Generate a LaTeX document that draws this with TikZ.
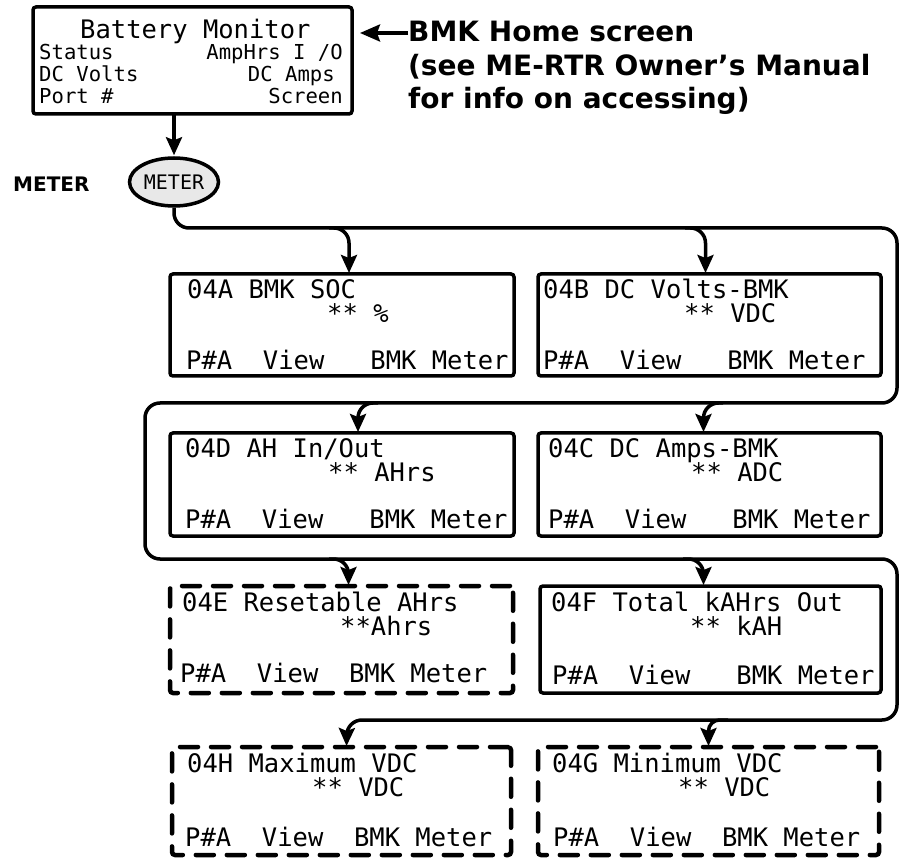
\documentclass[tikz,border=0pt]{standalone}
\usepackage{fontspec}
\setmainfont{DejaVu Sans}
\newfontfamily\lcdfont{DejaVu Sans Mono}
\usetikzlibrary{arrows.meta,shapes.geometric,positioning}

\tikzset{
  screen/.style={draw, line width=3.5pt, rounded corners=3pt, inner sep=0pt, outer sep=0pt,
    anchor=north west, minimum width=344pt, minimum height=103pt},
  dashscreen/.style={screen, line width=4.5pt, dash pattern=on 18pt off 13pt, line cap=round},
  lcd/.style={anchor=base west, inner sep=0pt, font=\lcdfont\fontsize{25.5}{30}\selectfont},
  lcdsmall/.style={anchor=base west, inner sep=0pt, font=\lcdfont\fontsize{20.6}{24}\selectfont},
  flow/.style={line width=3.5pt, rounded corners=15pt},
  feed/.style={flow, -{Stealth[length=18pt,width=16pt,inset=3pt]}, shorten >=1pt},
}

% text lines of one screen: name, title dx, title, value dx, value, keys dx, keys, keys lift
\newcommand\lcdlines[8]{%
  \node[lcd] (#1-title) at ([xshift=#2pt,yshift=-25pt]#1.north west) {#3};
  \node[lcd] (#1-value) at ([xshift=#4pt,yshift=-49pt]#1.north west) {#5};
  \node[lcd] (#1-keys)  at ([xshift=#6pt,yshift=#8pt]#1.south west) {#7};}

\begin{document}
\begin{tikzpicture}[x=1pt,y=-1pt]
\useasboundingbox (0,0) rectangle (900,858);

% home screen
\node[screen, minimum width=319pt, minimum height=107pt] (home) at (33,7) {};
\node[lcd] (home-title) at (80,39) {Battery Monitor};
\node[lcdsmall] (home-status) at (39,60) {Status};
\node[lcdsmall, anchor=base east] (home-amphrs) at (343,60) {AmpHrs I /O};
\node[lcdsmall] (home-volts) at (39,82) {DC Volts};
\node[lcdsmall, anchor=base east] (home-amps) at (335,82) {DC Amps};
\node[lcdsmall] (home-port) at (39,104) {Port \#};
\node[lcdsmall, anchor=base east] (home-screen) at (343,104) {Screen};

\node[anchor=north west, inner sep=0pt, align=left,
  font=\bfseries\fontsize{28}{33.5}\selectfont] (callout) at (408,21)
  {BMK Home screen\\(see ME-RTR Owner’s Manual\\for info on accessing)};
\draw[line width=3.5pt, -{Stealth[length=20pt,width=17pt,inset=3pt]}, shorten >=8pt]
  ([yshift=-12pt]callout.north west) -- ([yshift=-12pt]callout.north west -| home.east);

% meter key
\node[anchor=base west, inner sep=0pt, font=\bfseries\fontsize{20}{24}\selectfont]
  (meter-label) at (13,192) {METER};
\node[ellipse, draw, line width=3.5pt, fill=black!9, minimum width=89pt, minimum height=48pt,
  inner sep=0pt, font=\lcdfont\fontsize{20}{24}\selectfont] (meter) at (174,182) {METER};
\draw[feed] (meter.north |- home.south) -- (meter.north);

% screens
\node[screen, minimum height=102pt] (s04A) at (170,274) {};
\node[screen, minimum width=343pt, minimum height=102pt] (s04B) at (538,274) {};
\node[screen] (s04D) at (170,433) {};
\node[screen, minimum width=343pt] (s04C) at (538,433) {};
\node[dashscreen, minimum width=343pt, minimum height=107pt] (s04E) at (170,586) {};
\node[screen, minimum width=341pt, minimum height=107pt] (s04F) at (540,586) {};
\node[dashscreen, minimum width=339pt, minimum height=108pt] (s04H) at (172,747) {};
\node[dashscreen, minimum width=341pt, minimum height=108pt] (s04G) at (538,747) {};

\lcdlines{s04A}{17}{04A BMK SOC}{157}{** \%}{16}{P\#A~~View~~~BMK~Meter}{6}
\lcdlines{s04B}{5}{04B DC Volts-BMK}{146}{** VDC}{5}{P\#A~~View~~~BMK~Meter}{6}
\lcdlines{s04D}{15}{04D AH In/Out}{158}{** AHrs}{15}{P\#A~~View~~~BMK~Meter}{8}
\lcdlines{s04C}{10}{04C DC Amps-BMK}{153}{** ADC}{10}{P\#A~~View~~~BMK~Meter}{8}
\lcdlines{s04E}{12}{04E Resetable AHrs}{170}{**Ahrs}{10}{P\#A~~View~~BMK~Meter}{11}
\lcdlines{s04F}{11}{04F Total kAHrs Out}{150}{** kAH}{12}{P\#A~~View~~~BMK~Meter}{9}
\lcdlines{s04H}{15}{04H Maximum VDC}{140}{** VDC}{13}{P\#A~~View~~BMK~Meter}{9}
\lcdlines{s04G}{14}{04G Minimum VDC}{140}{** VDC}{15}{P\#A~~View~~BMK~Meter}{9}

% serpentine path through the screens
\draw[feed] (meter.south) |- (897,228) |- (145,403) |- (897,559) |- (347,720)
  [rounded corners=11pt] -- ([xshift=5pt]s04H.north);

% taps off the path
\coordinate (tapA) at (329,228);
\coordinate (tapB) at (685,228);
\coordinate (tapD) at (378,403);
\coordinate (tapC) at (723,403);
\coordinate (tapE) at (329,559);
\coordinate (tapF) at (683,559);
\coordinate (tapG) at (728,720);
\draw[feed] (tapA) -| ([xshift=7pt]s04A.north);
\draw[feed] (tapB) -| ([xshift=-4pt]s04B.north);
\draw[feed] (tapD) -| ([xshift=16pt]s04D.north);
\draw[feed] (tapC) -| ([xshift=-6pt]s04C.north);
\draw[feed] (tapE) -| ([xshift=7pt]s04E.north);
\draw[feed] (tapF) -| ([xshift=-7pt]s04F.north);
\draw[feed, rounded corners=11pt] (tapG) -| (s04G.north);
\end{tikzpicture}
\end{document}
